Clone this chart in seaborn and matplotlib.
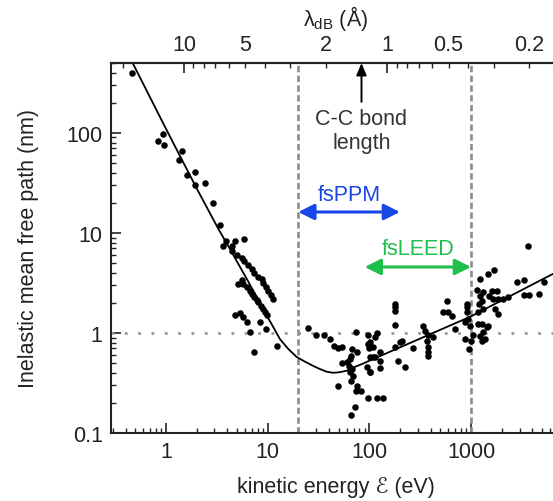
import matplotlib
matplotlib.use('Agg')
import matplotlib.pyplot as plt
from matplotlib.ticker import FixedLocator, FuncFormatter, NullFormatter, LogLocator
import numpy as np
import pandas as pd
import seaborn as sns

# measured IMFP data (kinetic energy in eV, mean free path in nm)
low_energy_ev = [0.46, 0.84, 0.94, 0.955, 1.43, 1.34, 1.93, 1.62, 1.93, 2.42, 2.92, 3.40, 3.89, 4.77, 5.89, 3.66, 4.49,
                 4.43, 4.96, 5.55, 5.85, 6.45, 6.96, 7.33, 8.08, 8.73, 9.06, 9.62, 10.1, 10.7, 11.4,
                 5.55, 5.14, 5.75, 6.22, 6.70, 6.96, 7.33, 7.79, 8.08, 8.59, 8.93, 9.40, 9.91,
                 4.77, 5.34, 5.75, 6.22, 8.40, 6.70, 9.62, 7.33, 12.4]
low_imfp_nm = [398, 83.8, 97.7, 76.4, 65.6, 54.1, 40.5, 38.3, 30.2, 31.4, 19.8, 12.0, 8.38, 8.38, 8.71, 7.36, 7.46,
               6.65, 6.03, 5.58, 5.28, 4.82, 4.37, 3.95, 3.66, 3.47, 3.14, 2.86, 2.65, 2.40, 2.19,
               3.41, 3.09, 3.09, 2.86, 2.65, 2.45, 2.28, 2.14, 2.03, 1.88, 1.74, 1.61, 1.51,
               1.51, 1.58, 1.46, 1.28, 1.30, 1.02, 1.10, 0.65, 0.746]

mid_energy_ev = [24.7, 29.6, 35.8, 41.0, 44.9, 49.4, 53.4, 67.0, 73.8, 75.0,
                 53.4, 59.8, 64.4, 65.5, 63.4, 67.0, 64.4, 69.5, 65.9, 49.4, 75.0, 73.8, 82.6, 72.2, 65.9,
                 96.2, 97.6, 99.8, 108, 94.0, 101, 96.2, 118, 137]
mid_imfp_nm = [1.12, 0.96, 0.96, 0.871, 0.736, 0.703, 0.719, 0.692, 1.03, 0.65,
               0.498, 0.509, 0.55, 0.593, 0.471, 0.437, 0.405, 0.374, 0.333, 0.297, 0.297, 0.261, 0.261, 0.181, 0.152,
               0.955, 0.776, 0.703, 0.571, 0.454, 0.405, 0.224, 0.224, 0.224]

high_energy_ev = [3650,
                  179, 179, 179, 179,
                  118, 114, 101, 109, 101, 114, 127, 127, 127, 101,
                  179, 200, 208, 192, 224, 270,
                  334, 352, 380, 366, 425, 380, 380, 380,
                  533, 575, 597, 644, 695,
                  906, 918, 906, 938, 871, 975, 871, 960, 1010, 1050,
                  1150, 1220, 1220, 1200, 1180, 1180, 1270, 1320, 1270, 1320, 1220, 1270, 1370, 1420, 1480, 1320,
                  1480, 1680, 1600, 1510, 1650, 1790, 1830, 1850, 1720, 2070, 2320, 2810, 3310, 3310, 3730, 4690, 5210]
high_imfp_nm = [7.36,
                1.95, 1.81, 1.67, 1.20,
                1.0, 0.906, 0.807, 0.719, 0.571, 0.571, 0.641, 0.529, 0.444, 0.410,
                0.719, 0.807, 0.838, 0.529, 0.460, 0.703,
                1.18, 1.05, 0.955, 0.838, 0.906, 0.719, 0.65, 0.585,
                1.61, 2.10, 1.61, 1.49, 1.10,
                1.95, 1.81, 1.61, 1.38, 1.28, 1.18, 0.871, 0.692, 0.838, 0.955,
                2.71, 3.47, 2.36, 1.95, 1.61, 1.23, 2.10, 1.74, 1.23, 1.02, 0.94, 0.838, 0.871, 1.14, 1.18, 2.55,
                3.89, 4.27, 2.65, 2.36, 2.19, 2.65, 2.19, 1.55, 1.74, 2.19, 2.28, 3.21, 3.39, 2.42, 2.42, 2.45, 3.21]

# universal curve
curve_energy_ev = [0.47, 1.0, 2.0, 3.27, 4.26, 6.2, 7.8, 9.8, 11.5, 13.2, 16.0, 19.3, 23.0, 27.9, 32.0,
                   38, 44, 51, 60, 69, 85, 101, 977, 6400]
curve_imfp_nm = [500, 110, 28, 11.0, 6.9, 3.5, 2.3, 1.49, 1.12, 0.87, 0.69, 0.575, 0.52, 0.47, 0.44,
                 0.41, 0.40, 0.405, 0.42, 0.45, 0.49, 0.53, 1.45, 3.9]

energy_limits = (0.288, 7500)
imfp_limits = (0.1, 500)
bottom_ticks = [1, 10, 100, 1000]
left_ticks = [0.1, 1, 10, 100]
lambda_major = [10, 1]
lambda_minor = [20, 9, 8, 7, 6, 5, 4, 3, 2, 0.9, 0.8, 0.7, 0.6, 0.5, 0.4, 0.3, 0.2]
lambda_labelled = [5, 2, 0.5, 0.2]
window_energies = [20, 1000]
cc_bond_lambda = 1.34
fsppm_range = (20, 200)
fsppm_level = 16.2
fsleed_range = (90, 1000)
fsleed_level = 4.57

blue = '#1747e6'
green = '#1fbf4b'


def energy_to_lambda(e):
    # de Broglie wavelength of an electron in angstrom
    return 12.26 / np.sqrt(e)


def plain_label(v, pos):
    return f'{v:g}'


points = pd.DataFrame({'energy': low_energy_ev + mid_energy_ev + high_energy_ev,
                       'imfp': low_imfp_nm + mid_imfp_nm + high_imfp_nm})
curve = pd.DataFrame({'energy': curve_energy_ev, 'imfp': curve_imfp_nm})

sns.set_theme(style='ticks')
plt.rcParams['font.family'] = ['Liberation Sans', 'DejaVu Sans']
plt.rcParams['mathtext.fontset'] = 'custom'
plt.rcParams['mathtext.rm'] = 'Liberation Sans'
plt.rcParams['mathtext.it'] = 'Liberation Sans:italic'
text_size = 15.5

fig = plt.figure(figsize=(5.53, 5.02), dpi=100)
ax = fig.add_axes([111 / 553, 68 / 502, 449 / 553, 370 / 502])
ax.set_xscale('log')
ax.set_yscale('log')
ax.set_xlim(*energy_limits)
ax.set_ylim(*imfp_limits)

for e in window_energies:
    ax.axvline(e, color='#8c8c8c', lw=1.9, linestyle=(0, (2.4, 1.3)), zorder=1)
ax.axhline(1, color='#9a9a9a', lw=2.0, linestyle=(0, (1, 3.8)), zorder=1)

sns.lineplot(data=curve, x='energy', y='imfp', color='black', lw=1.3, estimator=None, ax=ax, zorder=2)
sns.scatterplot(data=points, x='energy', y='imfp', color='black', s=22, linewidth=0, ax=ax, zorder=3)

ax.xaxis.set_major_locator(FixedLocator(bottom_ticks))
ax.xaxis.set_major_formatter(FuncFormatter(plain_label))
ax.xaxis.set_minor_locator(LogLocator(base=10, subs=range(2, 10), numticks=20))
ax.xaxis.set_minor_formatter(NullFormatter())
ax.yaxis.set_major_locator(FixedLocator(left_ticks))
ax.yaxis.set_major_formatter(FuncFormatter(plain_label))
ax.yaxis.set_minor_locator(LogLocator(base=10, subs=range(2, 10), numticks=20))
ax.yaxis.set_minor_formatter(NullFormatter())
ax.tick_params(which='both', direction='in', top=False, right=False, colors='#222222',
               labelsize=text_size, width=1.2)
ax.tick_params(which='major', length=7, pad=6)
ax.tick_params(which='minor', length=3.5, width=1.0)
for side in ['left', 'bottom', 'top']:
    ax.spines[side].set_linewidth(1.5)
    ax.spines[side].set_color('#222222')
ax.spines['right'].set_visible(False)

ax.set_xlabel('kinetic energy ℰ (eV)', fontsize=text_size, color='#222222', labelpad=10)
ax.set_ylabel('Inelastic mean free path (nm)', fontsize=text_size, color='#222222', labelpad=20)

# de Broglie wavelength axis on top
ax2 = ax.twiny()
ax2.set_xscale('log')
ax2.set_xlim(energy_to_lambda(energy_limits[0]), energy_to_lambda(energy_limits[1]))
ax2.xaxis.set_major_locator(FixedLocator(lambda_major))
ax2.xaxis.set_major_formatter(FuncFormatter(plain_label))
ax2.xaxis.set_minor_locator(FixedLocator(lambda_minor))
ax2.xaxis.set_minor_formatter(FuncFormatter(lambda v, p: f'{v:g}' if any(abs(v - l) < 1e-6 for l in lambda_labelled) else ''))
ax2.tick_params(which='both', direction='in', colors='#222222', labelsize=text_size, width=1.2)
ax2.tick_params(which='major', length=7, pad=6)
ax2.tick_params(which='minor', length=3.5, width=1.0, pad=6)
for side in ['left', 'bottom', 'right']:
    ax2.spines[side].set_visible(False)
ax2.spines['top'].set_linewidth(1.5)
ax2.spines['top'].set_color('#222222')
ax2.set_xlabel('λ$_{\\mathrm{dB}}$ (Å)', fontsize=text_size, color='#222222', labelpad=6)

# C-C bond marker
ax2.annotate('', xy=(cc_bond_lambda, 1.0), xytext=(cc_bond_lambda, 0.895),
             xycoords=('data', 'axes fraction'), textcoords=('data', 'axes fraction'),
             arrowprops=dict(arrowstyle='-|>,head_length=0.6,head_width=0.25', color='black',
                             lw=1.4, mutation_scale=12, shrinkA=0, shrinkB=0))
ax2.text(cc_bond_lambda, 0.818, 'C-C bond\nlength', transform=ax2.get_xaxis_transform(),
         ha='center', va='center', fontsize=text_size, color='#333333', linespacing=1.15)

# experiment windows
ax.annotate('', xy=(fsppm_range[0], fsppm_level), xytext=(fsppm_range[1], fsppm_level),
            arrowprops=dict(arrowstyle='<|-|>,head_length=0.6,head_width=0.3', color=blue,
                            lw=2.2, mutation_scale=16, shrinkA=0, shrinkB=0))
ax.text(np.sqrt(fsppm_range[0] * fsppm_range[1]), 24, 'fsPPM', ha='center', va='center',
        fontsize=text_size, color=blue)
ax.annotate('', xy=(fsleed_range[0], fsleed_level), xytext=(fsleed_range[1], fsleed_level),
            arrowprops=dict(arrowstyle='<|-|>,head_length=0.6,head_width=0.3', color=green,
                            lw=2.2, mutation_scale=16, shrinkA=0, shrinkB=0))
ax.text(np.sqrt(fsleed_range[0] * fsleed_range[1]), 7.0, 'fsLEED', ha='center', va='center',
        fontsize=text_size, color=green)

fig.savefig('out.png', dpi=100)
